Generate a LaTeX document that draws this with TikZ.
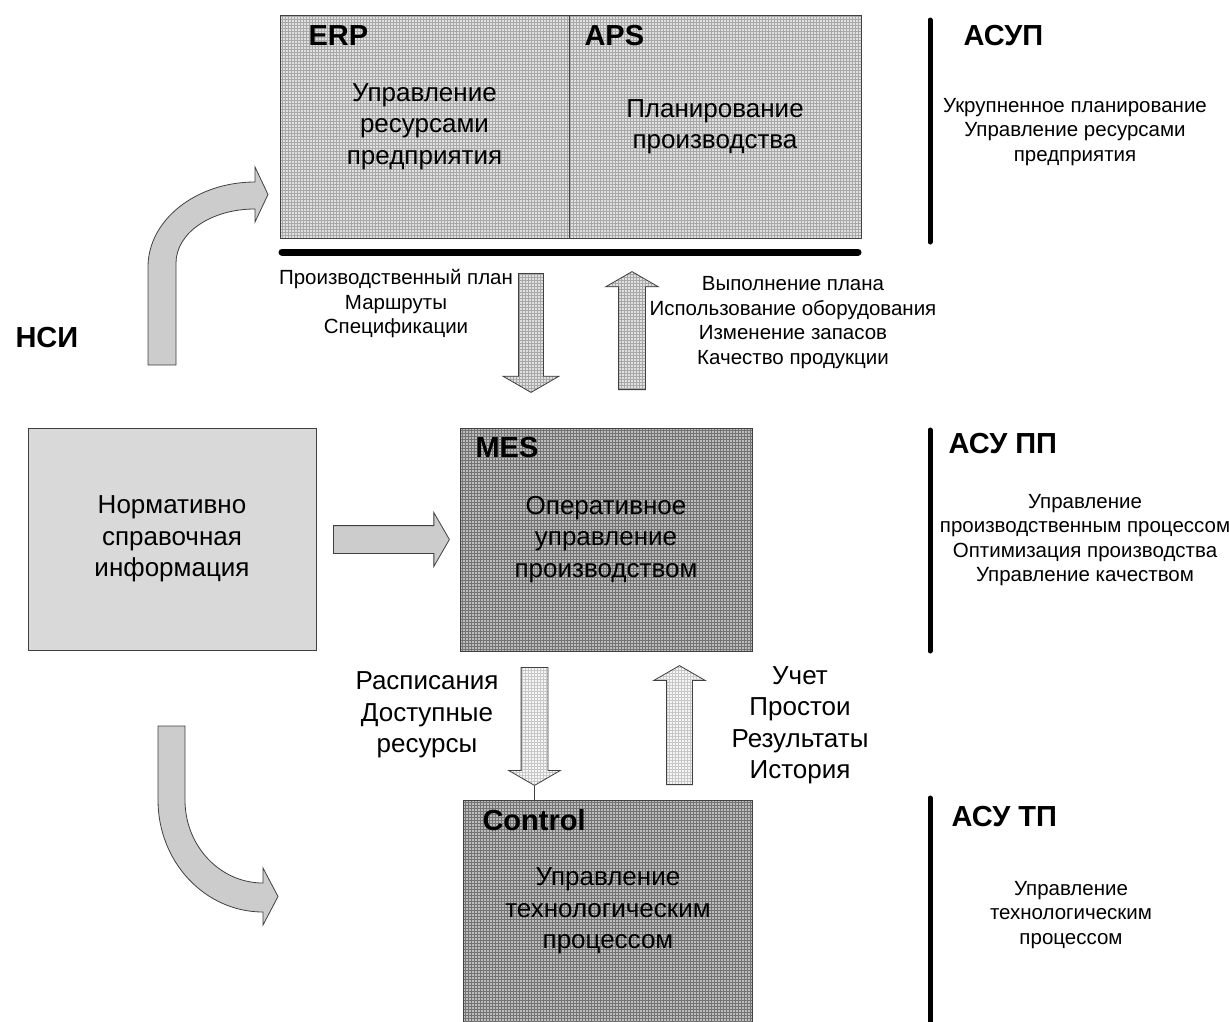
\documentclass[tikz,border=0pt]{standalone}
\usepackage{fontspec}
\setmainfont{Liberation Sans}
\usepackage{tikz}
\usetikzlibrary{shapes.arrows,patterns}

\tikzset{
  layerbox/.style={rectangle, draw=black!75, line width=0.8, inner sep=0, align=center, font=\fontsize{26}{31.5}\selectfont},
  erpfill/.style={preaction={fill=black!12}, pattern=grid, pattern color=black!34},
  mesfill/.style={preaction={fill=black!26}, pattern=grid, pattern color=black!55},
  lowfill/.style={preaction={fill=black!4}, pattern=grid, pattern color=black!22},
  blockarrow/.style={single arrow, draw=black!75, line width=0.8, inner xsep=0, single arrow tip angle=120, anchor=tail},
  bendarrow/.style={draw=black!75, line width=0.8, fill=black!20},
  tag/.style={anchor=base west, font=\bfseries\fontsize{29}{34}\selectfont},
  note/.style={align=center, font=\fontsize{20.5}{24.5}\selectfont},
  flownote/.style={align=center, font=\fontsize{26}{31.5}\selectfont},
  sidebar/.style={line width=5, line cap=round}
}

\begin{document}
\begin{tikzpicture}[x=1pt,y=-1pt]
            \useasboundingbox (0,0) rectangle (1229,1021);
            \clip (0,0) rectangle (1229,1021);
            \draw (424.5,126.5) node[layerbox, erpfill, minimum width=289, minimum height=223] (erp) {Управление\\ресурсами\\предприятия};
            \draw (715,126.5) node[layerbox, erpfill, minimum width=292, minimum height=223] (aps) {Планирование\\производства};
            \draw (305,45) node[tag] (erptag) {ERP};
            \draw (581,45) node[tag] (apstag) {APS};
            \draw[line width=7, line cap=round] (282,252) -- (858,252);
            \draw (172,539) node[layerbox, fill=black!15, minimum width=288, minimum height=222] (nsi) {Нормативно\\справочная\\информация};
            \draw (606,539.5) node[layerbox, mesfill, minimum width=292, minimum height=223] (mes) {Оперативное\\управление\\производством};
            \draw (472,457) node[tag] (mestag) {MES};
            \draw (607.5,915) node[layerbox, mesfill, minimum width=289, minimum height=230] (ctrl) {};
            \draw (608,911) node[flownote] (ctrltext) {Управление\\технологическим\\процессом};
            \draw (479,830) node[tag] (ctrltag) {Control};
            \draw (12,347) node[tag] (nsitag) {НСИ};
            \draw (531,273) node[blockarrow, erpfill, rotate=-90, inner ysep=12, single arrow head extend=15.5, minimum height=119] (planarrow) {};
            \draw (632,390) node[blockarrow, erpfill, rotate=90, inner ysep=13, single arrow head extend=13, minimum height=118] (factarrow) {};
            \draw (333,539.5) node[blockarrow, fill=black!20, inner ysep=13.5, single arrow head extend=13, minimum height=116] (nsiarrow) {};
            \draw (534.5,667) node[blockarrow, lowfill, rotate=-90, inner ysep=13, single arrow head extend=12.5, minimum height=118] (schedarrow) {};
            \draw (679.5,785) node[blockarrow, lowfill, rotate=90, inner ysep=12.5, single arrow head extend=13, minimum height=119] (reportarrow) {};
            \draw[black!75, line width=0.8] (schedarrow.tip) -- (ctrl.north -| schedarrow.tip);
            \draw[bendarrow] (148,365) -- (148,267) .. controls (148,220) and (196,182) .. (255,182) -- (255,167) -- (268,194.5) -- (255,222) -- (255,209) .. controls (211,209) and (176,233) .. (176,263) -- (176,365) -- cycle;
            \draw[bendarrow] (158,726) -- (158,800) .. controls (158,862) and (205,912) .. (263,912) -- (263,925) -- (278,896.5) -- (263,868) -- (263,883) .. controls (220,883) and (185,846) .. (185,800) -- (185,726) -- cycle;
            \draw (396,304) node[note] (plannote) {Производственный план\\Маршруты\\Спецификации};
            \draw (793,322.5) node[note] (factnote) {Выполнение плана\\Использование оборудования\\Изменение запасов\\Качество продукции};
            \draw (427,715) node[flownote] (schednote) {Расписания\\Доступные\\ресурсы};
            \draw (800,725) node[flownote] (reportnote) {Учет\\Простои\\Результаты\\История};
            \foreach \ya/\yb in {20/242, 430/651, 798/1030}{
            \draw[sidebar] (930,\ya) -- (930,\yb);
            }
            \draw (960,45) node[tag] (asup) {АСУП};
            \draw (945,453) node[tag] (asupp) {АСУ ПП};
            \draw (948,826) node[tag] (asutp) {АСУ ТП};
            \draw (1075,132) node[note] (asupnote) {Укрупненное планирование\\Управление ресурсами\\предприятия};
            \draw (1085,540) node[note] (asuppnote) {Управление\\производственным процессом\\Оптимизация производства\\Управление качеством};
            \draw (1071,915) node[note] (asutpnote) {Управление\\технологическим\\процессом};
\end{tikzpicture}
\end{document}
